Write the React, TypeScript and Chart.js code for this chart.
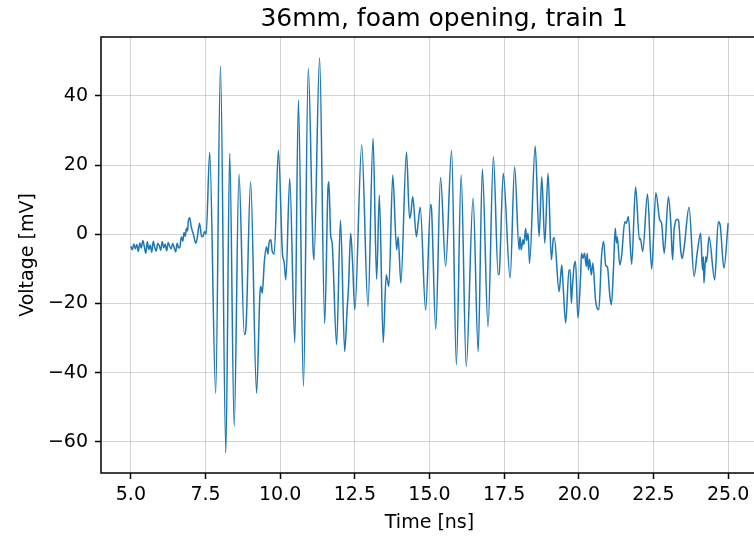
import React, { useEffect, useRef } from "react";
import { Chart, registerables } from "chart.js";

Chart.register(...registerables);

const FONT = "'DejaVu Sans', sans-serif";
const TITLE = "36mm, foam opening, train 1";
const X_LABEL = "Time [ns]";
const Y_LABEL = "Voltage [mV]";
const X_TICKS = [5, 7.5, 10, 12.5, 15, 17.5, 20, 22.5, 25];
const Y_TICKS = [-60, -40, -20, 0, 20, 40];
const X_MIN = 4;
const X_MAX = 26;
const Y_MIN = -69;
const Y_MAX = 57;

const TIME_NS = [
  5.0, 5.05, 5.1, 5.15, 5.2, 5.25, 5.3, 5.35, 5.4, 5.45, 5.5, 5.55, 5.6, 5.65, 5.7, 5.75, 5.8, 5.85, 5.9, 5.95,
  6.0, 6.05, 6.1, 6.15, 6.2, 6.25, 6.3, 6.35, 6.4, 6.45, 6.5, 6.55, 6.6, 6.64, 6.69, 6.74, 6.78, 6.82, 6.86, 6.9,
  6.92, 6.97, 7.02, 7.1, 7.17, 7.22, 7.3, 7.37, 7.42, 7.47, 7.52, 7.64, 7.84, 8.0, 8.18, 8.31, 8.46, 8.62, 8.8, 8.86,
  9.01, 9.21, 9.32, 9.35, 9.4, 9.47, 9.54, 9.59, 9.63, 9.69, 9.73, 9.8, 9.94, 10.08, 10.13, 10.19, 10.32, 10.49, 10.61, 10.78,
  10.94, 11.1, 11.13, 11.32, 11.49, 11.6, 11.63, 11.69, 11.74, 11.89, 12.02, 12.16, 12.24, 12.29, 12.36, 12.42, 12.5, 12.73, 12.94, 13.11,
  13.23, 13.32, 13.45, 13.55, 13.64, 13.77, 13.9, 13.95, 14.04, 14.23, 14.33, 14.37, 14.44, 14.56, 14.61, 14.69, 14.87, 15.04, 15.07, 15.21,
  15.37, 15.54, 15.74, 15.9, 16.06, 16.23, 16.46, 16.63, 16.77, 16.96, 17.14, 17.3, 17.33, 17.47, 17.7, 17.85, 18.0, 18.03, 18.07, 18.13,
  18.16, 18.22, 18.25, 18.3, 18.35, 18.54, 18.67, 18.76, 18.86, 18.97, 19.08, 19.15, 19.18, 19.34, 19.39, 19.43, 19.47, 19.56, 19.67, 19.71,
  19.75, 19.78, 19.84, 19.89, 19.97, 20.06, 20.09, 20.14, 20.19, 20.25, 20.28, 20.32, 20.36, 20.42, 20.47, 20.56, 20.67, 20.76, 20.83, 20.9,
  20.96, 21.04, 21.09, 21.16, 21.22, 21.26, 21.29, 21.37, 21.43, 21.54, 21.59, 21.66, 21.77, 21.9, 22.03, 22.06, 22.14, 22.3, 22.44, 22.58,
  22.71, 22.77, 22.86, 23.0, 23.08, 23.14, 23.19, 23.3, 23.34, 23.41, 23.46, 23.53, 23.69, 23.86, 23.97, 24.08, 24.14, 24.17, 24.19, 24.25,
  24.28, 24.36, 24.55, 24.67, 24.73, 24.86, 25.0,
];

const VOLTAGE_MV = [
  -3.5, -4.5, -2.8, -4.2, -3.0, -5.0, -2.5, -4.0, -1.8, -3.6, -5.5, -2.2, -4.4, -3.1, -5.2, -2.0, -3.8, -4.9, -2.6, -3.3,
  -4.6, -2.1, -3.9, -2.9, -4.8, -2.4, -3.5, -4.2, -2.7, -3.8, -5.1, -2.6, -4.0, -3.8, -0.7, -2.0, 0.5, -0.6, 1.7, 0.9,
  3.5, 4.8, 2.2, -0.2, -2.6, -1.2, 3.2, -0.7, -0.5, 0.8, 0.0, 23.7, -46.0, 48.6, -63.2, 23.4, -55.5, 17.3, -29.0, -26.0,
  15.2, -45.9, -17.5, -15.0, -17.0, -7.9, -3.6, -5.7, -2.4, -1.6, -4.8, -5.7, 24.3, -6.0, -7.9, -13.2, 16.1, -31.4, 38.7, -44.0,
  47.9, -4.0, -7.4, 51.0, -25.7, 13.3, 15.2, -0.2, -2.6, -31.9, 4.1, -33.9, -22.0, -15.0, 0.3, -7.4, -21.8, 25.8, -20.9, 27.7,
  -13.0, 11.3, -31.3, -11.7, -15.1, 17.1, -4.5, -0.7, -14.1, 23.8, 4.6, 5.6, 10.8, -0.7, 2.4, 7.8, -22.0, 8.7, 7.0, -27.4,
  16.4, -9.3, 24.3, -37.7, 17.1, -38.2, 10.4, -33.9, 18.8, -26.7, 22.4, -11.7, -11.5, 17.6, -12.7, 19.5, -4.5, -0.7, -4.5, -1.6,
  -3.0, 1.7, -1.8, 0.3, -8.4, 25.5, -0.7, 16.6, -2.6, 17.6, -7.4, -1.2, -1.0, -16.6, -12.2, -8.9, -14.1, -25.7, -10.3, -10.3,
  -19.9, -16.0, -9.3, -7.9, -24.2, -12.0, -5.5, -7.0, -5.5, -9.3, -5.5, -10.3, -7.2, -11.8, -8.3, -19.0, -21.8, -6.5, -2.1, -9.0,
  -9.5, -18.0, -20.4, -10.0, 1.7, -2.5, -0.8, -8.9, -6.5, 3.6, 3.2, 5.1, -8.7, 13.7, -1.6, -1.2, -5.0, 11.6, -10.1, 12.0,
  4.1, 3.2, -5.5, 10.8, 3.2, -7.4, 1.2, 4.3, 4.0, -4.5, -7.0, -3.6, 7.8, -12.2, -5.0, 0.3, -10.3, -6.5, -14.1, -6.5,
  -8.0, -0.7, -13.2, 3.6, 2.8, -9.8, 3.2,
];

const fmtMinus = (s: string) => s.replace("-", "\u2212");

export default function App() {
  const ref = useRef<HTMLCanvasElement>(null);

  useEffect(() => {
    const canvas = ref.current;
    if (!canvas) return;
    Chart.defaults.font.family = FONT;
    Chart.defaults.color = "#000";

    const points = TIME_NS.map((t, i) => ({ x: t, y: VOLTAGE_MV[i] }));

    const frame = {
      id: "frame",
      afterDatasetsDraw(chart: any) {
        const { ctx, chartArea: a } = chart;
        ctx.save();
        ctx.strokeStyle = "#000";
        ctx.lineWidth = 1.5;
        ctx.strokeRect(a.left, a.top, a.right - a.left, a.bottom - a.top);
        ctx.restore();
      },
    };

    const titlePlugin = {
      id: "mplTitle",
      afterDraw(chart: any) {
        const { ctx } = chart;
        ctx.save();
        ctx.fillStyle = "#000";
        ctx.font = `25px ${FONT}`;
        ctx.textAlign = "center";
        ctx.textBaseline = "middle";
        ctx.fillText(TITLE, 444, 19);
        ctx.restore();
      },
    };

    const gridCfg = {
      color: "rgba(176,176,176,0.55)",
      lineWidth: 1,
      tickColor: "#000",
      tickLength: 6,
      tickWidth: 1.5,
    };

    const chart = new Chart(canvas, {
      type: "line",
      data: {
        datasets: [
          {
            data: points,
            borderColor: "#1f77b4",
            borderWidth: 1.5,
            pointRadius: 0,
            fill: false,
            cubicInterpolationMode: "monotone",
          },
        ],
      },
      options: {
        responsive: false,
        animation: false,
        devicePixelRatio: 1,
        layout: { padding: { left: 0, right: 8, top: 37, bottom: 0 } },
        plugins: {
          legend: { display: false },
          tooltip: { enabled: false },
          title: { display: false },
        },
        scales: {
          x: {
            type: "linear",
            min: X_MIN,
            max: X_MAX,
            afterBuildTicks: (s: any) => {
              s.ticks = X_TICKS.map((v) => ({ value: v }));
            },
            afterFit: (s: any) => {
              s.height = 63;
            },
            grid: gridCfg,
            border: { display: false },
            ticks: {
              autoSkip: false,
              maxRotation: 0,
              padding: 5,
              color: "#000",
              font: { family: FONT, size: 19 },
              callback: (v: any) => Number(v).toFixed(1),
            },
            title: {
              display: true,
              text: X_LABEL,
              color: "#000",
              font: { family: FONT, size: 19 },
              padding: { top: 0, bottom: 2 },
            },
          },
          y: {
            type: "linear",
            min: Y_MIN,
            max: Y_MAX,
            afterBuildTicks: (s: any) => {
              s.ticks = Y_TICKS.map((v) => ({ value: v }));
            },
            afterFit: (s: any) => {
              s.width = 101;
            },
            grid: gridCfg,
            border: { display: false },
            ticks: {
              padding: 7,
              color: "#000",
              font: { family: FONT, size: 19 },
              callback: (v: any) => fmtMinus(String(v)),
            },
            title: {
              display: true,
              text: Y_LABEL,
              color: "#000",
              font: { family: FONT, size: 19 },
              padding: { top: 17, bottom: 0 },
            },
          },
        },
      },
      plugins: [frame, titlePlugin],
    } as any);

    return () => chart.destroy();
  }, []);

  return (
    <div
      style={{
        position: "fixed",
        left: 0,
        top: 0,
        width: 754,
        height: 536,
        overflow: "hidden",
        background: "#fff",
      }}
    >
      <canvas
        ref={ref}
        width={766}
        height={536}
        style={{ display: "block", width: 766, height: 536 }}
      />
    </div>
  );
}
